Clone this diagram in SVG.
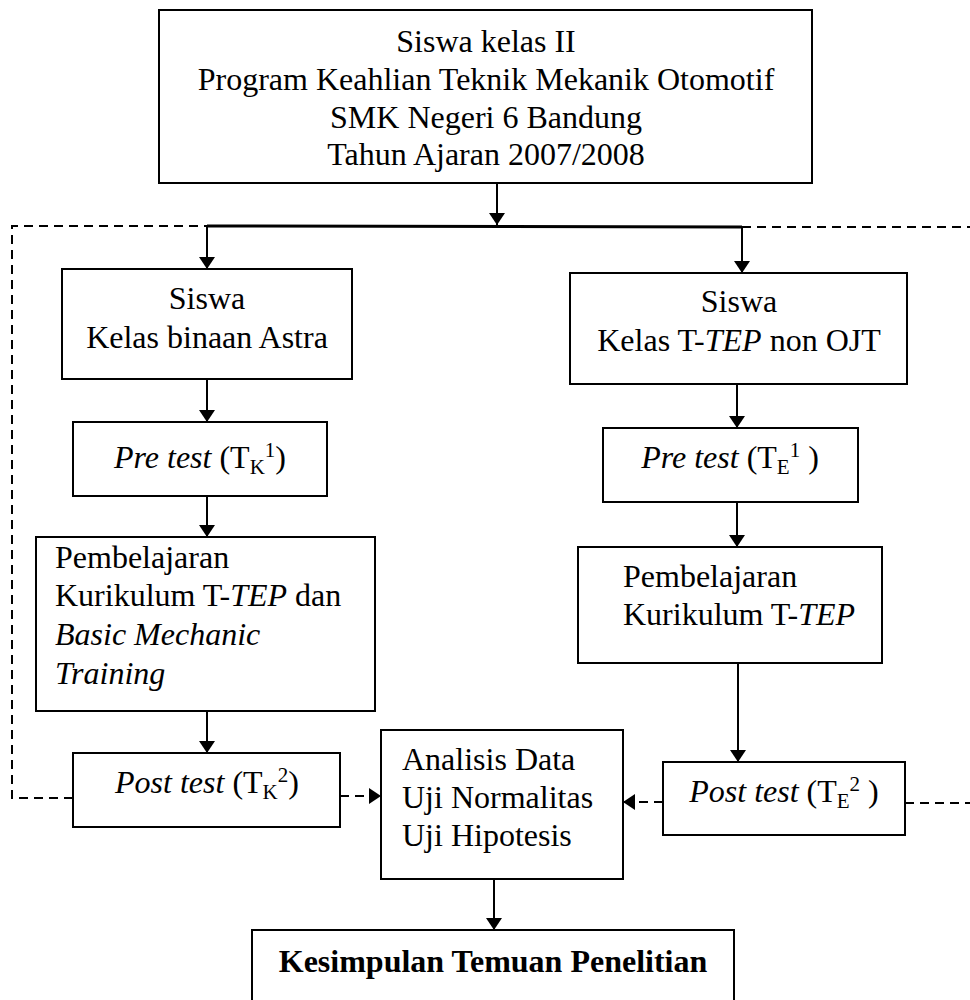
<svg xmlns="http://www.w3.org/2000/svg" width="970" height="1000" viewBox="0 0 970 1000">
<style>
  .box{fill:#fff;stroke:#000;stroke-width:2}
  text{font-family:"Liberation Serif","Times New Roman",serif;font-size:32px;fill:#000}
  .c{text-anchor:middle}
  .i{font-style:italic}
  .s{font-size:21px}
  .b{font-weight:bold}
  .ln{stroke:#000;stroke-width:2;fill:none}
  .thick{stroke:#000;stroke-width:3;fill:none}
  .dash{stroke:#000;stroke-width:2;fill:none;stroke-dasharray:9 6}
</style>
<defs>
  <marker id="ah" viewBox="0 0 12 16" refX="12" refY="8" markerWidth="12" markerHeight="16" markerUnits="userSpaceOnUse" orient="auto">
    <path d="M0,0 L12,8 L0,16 Z" fill="#000"/>
  </marker>
</defs>
<rect width="970" height="1000" fill="#fff"/>

<g id="connectors">
  <line class="ln" x1="497" y1="183" x2="497" y2="225" marker-end="url(#ah)"/>
  <line class="thick" x1="207" y1="226" x2="742" y2="227"/>
  <line class="ln" x1="207" y1="226" x2="207" y2="269" marker-end="url(#ah)"/>
  <line class="ln" x1="742" y1="227" x2="742" y2="273" marker-end="url(#ah)"/>
  <line class="ln" x1="207" y1="379" x2="207" y2="422" marker-end="url(#ah)"/>
  <line class="ln" x1="207" y1="496" x2="207" y2="537" marker-end="url(#ah)"/>
  <line class="ln" x1="207" y1="711" x2="207" y2="753" marker-end="url(#ah)"/>
  <line class="ln" x1="737" y1="384" x2="737" y2="428" marker-end="url(#ah)"/>
  <line class="ln" x1="737" y1="502" x2="737" y2="547" marker-end="url(#ah)"/>
  <line class="ln" x1="738" y1="663" x2="738" y2="762" marker-end="url(#ah)"/>
  <line class="ln" x1="494" y1="879" x2="494" y2="930" marker-end="url(#ah)"/>
  <polyline class="dash" points="73,798 12,798 12,226 207,226"/>
  <line class="dash" x1="742" y1="227" x2="970" y2="227"/>
  <line class="dash" x1="905" y1="803" x2="970" y2="803"/>
  <line class="dash" x1="340" y1="796" x2="381" y2="796" marker-end="url(#ah)"/>
  <line class="dash" x1="663" y1="802" x2="623" y2="802" marker-end="url(#ah)"/>
</g>

<g id="top">
  <rect class="box" x="159" y="10" width="653" height="173"/>
  <text class="c" x="486" y="52">Siswa kelas II</text>
  <text class="c" x="486" y="90">Program Keahlian Teknik Mekanik Otomotif</text>
  <text class="c" x="486" y="128">SMK Negeri 6 Bandung</text>
  <text class="c" x="486" y="165">Tahun Ajaran 2007/2008</text>
</g>

<g id="siswa-astra">
  <rect class="box" x="62" y="269" width="290" height="110"/>
  <text class="c" x="207" y="309">Siswa</text>
  <text class="c" x="207" y="348">Kelas binaan Astra</text>
</g>

<g id="siswa-tep">
  <rect class="box" x="570" y="273" width="337" height="111"/>
  <text class="c" x="739" y="312">Siswa</text>
  <text class="c" x="739" y="351">Kelas T-<tspan class="i">TEP</tspan> non OJT</text>
</g>

<g id="pre-k">
  <rect class="box" x="73" y="422" width="254" height="74"/>
  <text class="c" x="200" y="468"><tspan class="i">Pre test</tspan> (T<tspan class="s" dy="6">K</tspan><tspan class="s" dy="-17">1</tspan><tspan dy="11">)</tspan></text>
</g>

<g id="pre-e">
  <rect class="box" x="603" y="428" width="255" height="74"/>
  <text class="c" x="730" y="468"><tspan class="i">Pre test</tspan> (T<tspan class="s" dy="6">E</tspan><tspan class="s" dy="-17">1</tspan><tspan dy="11"> )</tspan></text>
</g>

<g id="pembelajaran-k">
  <rect class="box" x="36" y="537" width="339" height="174"/>
  <text x="55" y="568">Pembelajaran</text>
  <text x="55" y="606">Kurikulum T-<tspan class="i">TEP</tspan> dan</text>
  <text x="55" y="645" class="i">Basic Mechanic</text>
  <text x="55" y="684" class="i">Training</text>
</g>

<g id="pembelajaran-e">
  <rect class="box" x="578" y="547" width="304" height="116"/>
  <text x="623" y="587">Pembelajaran</text>
  <text x="623" y="625">Kurikulum T-<tspan class="i">TEP</tspan></text>
</g>

<g id="post-k">
  <rect class="box" x="73" y="753" width="267" height="74"/>
  <text class="c" x="207" y="793"><tspan class="i">Post test</tspan> (T<tspan class="s" dy="6">K</tspan><tspan class="s" dy="-17">2</tspan><tspan dy="11">)</tspan></text>
</g>

<g id="post-e">
  <rect class="box" x="663" y="762" width="242" height="73"/>
  <text class="c" x="784" y="802"><tspan class="i">Post test</tspan> (T<tspan class="s" dy="6">E</tspan><tspan class="s" dy="-17">2</tspan><tspan dy="11"> )</tspan></text>
</g>

<g id="analisis">
  <rect class="box" x="381" y="730" width="242" height="149"/>
  <text x="402" y="770">Analisis Data</text>
  <text x="402" y="808">Uji Normalitas</text>
  <text x="402" y="846">Uji Hipotesis</text>
</g>

<g id="kesimpulan">
  <rect class="box" x="252" y="930" width="482" height="80"/>
  <text class="c b" x="493" y="972">Kesimpulan Temuan Penelitian</text>
</g>
</svg>
